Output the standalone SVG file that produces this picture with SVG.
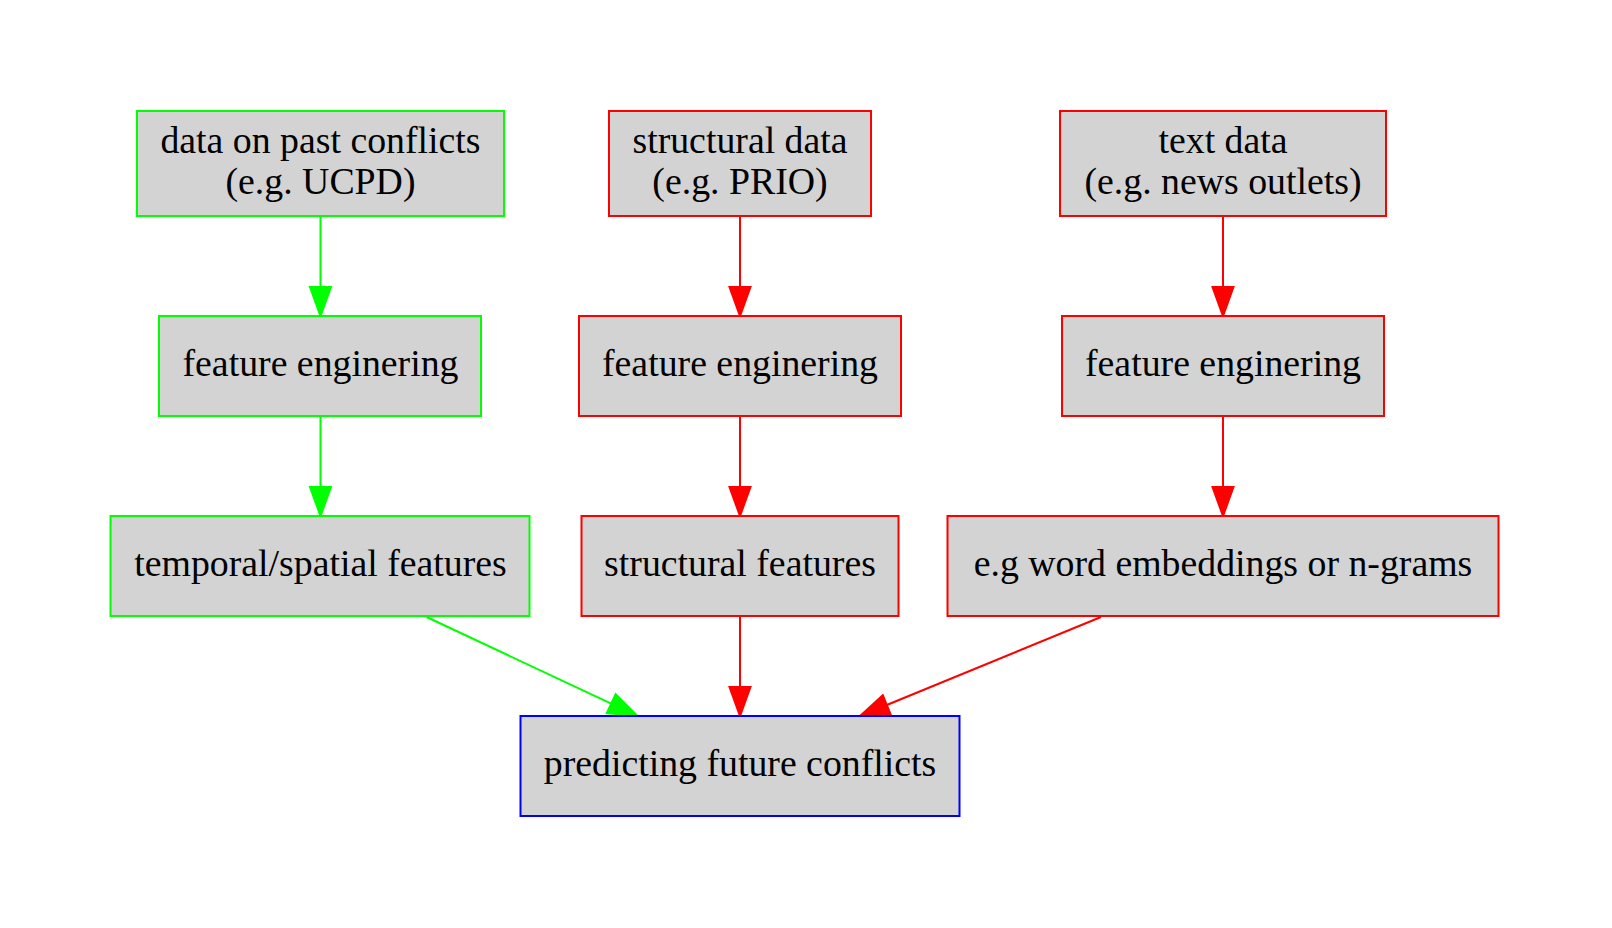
<svg xmlns="http://www.w3.org/2000/svg" width="1612" height="928" viewBox="0 0 1612 928">
<style>
.n rect{fill:#d3d3d3;stroke-width:2}
.g rect{stroke:#00ff00}
.r rect{stroke:#ff0000}
.b rect{stroke:#0000ff}
text{font-family:"Liberation Serif","Times New Roman",serif;font-size:37.8px;fill:#000;text-anchor:middle}
.e path{fill:none;stroke-width:2}
.eg{stroke:#00ff00}
.er{stroke:#ff0000}
</style>
<defs>
<marker id="ag" markerUnits="userSpaceOnUse" markerWidth="40" markerHeight="30" refX="0" refY="11" orient="auto" viewBox="0 0 40 22" overflow="visible">
<path d="M0,0.5 L29,11 L0,21.5 Z" fill="#00ff00" stroke="#00ff00" stroke-width="2"/>
</marker>
<marker id="ar" markerUnits="userSpaceOnUse" markerWidth="40" markerHeight="30" refX="0" refY="11" orient="auto" viewBox="0 0 40 22" overflow="visible">
<path d="M0,0.5 L29,11 L0,21.5 Z" fill="#ff0000" stroke="#ff0000" stroke-width="2"/>
</marker>
</defs>
<rect width="1612" height="928" fill="#ffffff"/>
<g id="edges" class="e">
<path class="eg" d="M320.5,216 L320.5,287" marker-end="url(#ag)"/>
<path class="eg" d="M320.5,416 L320.5,487" marker-end="url(#ag)"/>
<path class="eg" d="M426.6,617 L611.2,703.7" marker-end="url(#ag)"/>
<path class="er" d="M740,216 L740,287" marker-end="url(#ar)"/>
<path class="er" d="M740,416 L740,487" marker-end="url(#ar)"/>
<path class="er" d="M740,616 L740,687" marker-end="url(#ar)"/>
<path class="er" d="M1223,216 L1223,287" marker-end="url(#ar)"/>
<path class="er" d="M1223,416 L1223,487" marker-end="url(#ar)"/>
<path class="er" d="M1101,617 L886.8,705" marker-end="url(#ar)"/>
</g>
<g id="past" class="n g">
<rect x="137" y="111" width="367" height="105"/>
<text x="320.5" y="152.5">data on past conflicts</text>
<text x="320.5" y="194">(e.g. UCPD)</text>
</g>
<g id="fe1" class="n g">
<rect x="159" y="316" width="322" height="100"/>
<text x="320.5" y="375.5">feature enginering</text>
</g>
<g id="temporal" class="n g">
<rect x="110.5" y="516" width="419" height="100"/>
<text x="320.5" y="575.5">temporal/spatial features</text>
</g>
<g id="structural" class="n r">
<rect x="609" y="111" width="262" height="105"/>
<text x="740" y="152.5">structural data</text>
<text x="740" y="194">(e.g. PRIO)</text>
</g>
<g id="fe2" class="n r">
<rect x="579" y="316" width="322" height="100"/>
<text x="740" y="375.5">feature enginering</text>
</g>
<g id="structfeat" class="n r">
<rect x="581.5" y="516" width="317" height="100"/>
<text x="740" y="575.5">structural features</text>
</g>
<g id="text" class="n r">
<rect x="1060" y="111" width="326" height="105"/>
<text x="1223" y="152.5">text data</text>
<text x="1223" y="194">(e.g. news outlets)</text>
</g>
<g id="fe3" class="n r">
<rect x="1062" y="316" width="322" height="100"/>
<text x="1223" y="375.5">feature enginering</text>
</g>
<g id="embed" class="n r">
<rect x="947.5" y="516" width="551" height="100"/>
<text x="1223" y="575.5">e.g word embeddings or n-grams</text>
</g>
<g id="predict" class="n b">
<rect x="520.5" y="716" width="439" height="100"/>
<text x="740" y="775.5">predicting future conflicts</text>
</g>
</svg>
